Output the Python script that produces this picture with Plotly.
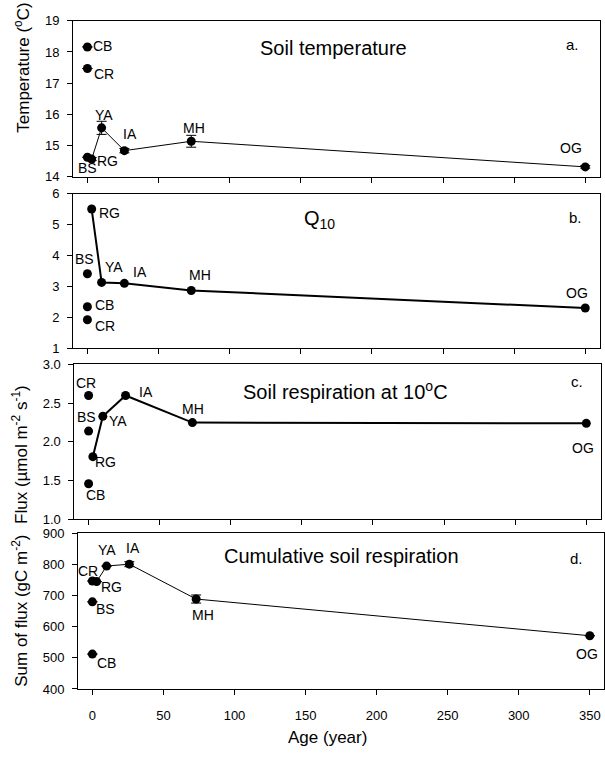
import plotly.graph_objects as go

# ---------------- data ----------------
sites = ["BS", "CB", "CR", "RG", "YA", "IA", "MH", "OG"]
age = [0, 0, 0, 3, 10, 26, 73, 350]
temperature = [14.63, 18.16, 17.47, 14.57, 15.57, 14.84, 15.14, 14.32]
temperature_se = [0, 0, 0, 0.05, 0.21, 0.07, 0.19, 0.04]
q10 = [3.41, 2.34, 1.92, 5.51, 3.13, 3.10, 2.87, 2.30]
flux10 = [2.14, 1.46, 2.60, 1.81, 2.33, 2.60, 2.25, 2.24]
cumulative = [680, 512, 747, 745, 795, 801, 689, 571]
cumulative_se = [0, 0, 0, 0, 0, 8, 13, 0]
chrono = ["RG", "YA", "IA", "MH", "OG"]  # chronosequence joined by a line

W, H = 605, 759
FONT = "Liberation Sans, Arial, sans-serif"


def fx(px):
    return px / W


def fy(py):
    return (H - py) / H


panels = [
    dict(y=temperature, err=temperature_se, lw=1,
         dom_x=(73.3, 600.5), dom_y=(14, 173.3), yr=[14, 19], yt=[14, 15, 16, 17, 18, 19], yfmt="d",
         title="Soil temperature", tpos=(334, 42), letter="a.", lpos=(573, 38),
         offs={"BS": (0, 11), "CB": (15.5, -1), "CR": (16.5, 5), "RG": (16, 2),
               "YA": (2, -13), "IA": (6, -17), "MH": (3, -13), "OG": (-14, -19)}),
    dict(y=q10, err=None, lw=2,
         dom_x=(73.3, 600.5), dom_y=(190.7, 348), yr=[1, 6], yt=[1, 2, 3, 4, 5, 6], yfmt="d",
         title="Q<sub>10</sub>", tpos=(320, 217), letter="b.", lpos=(576, 215),
         offs={"BS": (-3, -15), "CB": (17.5, -2), "CR": (18, 6), "RG": (18, 4),
               "YA": (12, -15), "IA": (16, -11), "MH": (9, -15), "OG": (-8, -15)}),
    dict(y=flux10, err=None, lw=2,
         dom_x=(74.5, 601.5), dom_y=(364.7, 522.7), yr=[1, 3], yt=[1.0, 1.5, 2.0, 2.5, 3.0], yfmt=".1f",
         title="Soil respiration at 10<sup>o</sup>C", tpos=(346, 391), letter="c.", lpos=(578, 382),
         offs={"BS": (-2, -14), "CB": (7, 11), "CR": (-3, -12), "RG": (12.5, 5),
               "YA": (15, 5), "IA": (20, -3), "MH": (1, -14), "OG": (-3, 25)}),
    dict(y=cumulative, err=cumulative_se, lw=1,
         dom_x=(78.3, 605), dom_y=(537, 695.7), yr=[400, 900], yt=[400, 500, 600, 700, 800, 900], yfmt="d",
         title="Cumulative soil respiration", tpos=(342, 560), letter="d.", lpos=(577, 563),
         offs={"BS": (13.5, 7), "CB": (14, 9), "CR": (-4, -10), "RG": (15, 5),
               "YA": (0.5, -16), "IA": (3.5, -16), "MH": (6.5, 16), "OG": (-3, 18)}),
]

fig = go.Figure()
annotations = []
layout = dict(
    width=W, height=H, margin=dict(l=0, r=0, t=0, b=0),
    paper_bgcolor="white", plot_bgcolor="white", showlegend=False,
    font=dict(family=FONT, size=13, color="black"),
)

for i, p in enumerate(panels, start=1):
    xa = "x" if i == 1 else f"x{i}"
    ya = "y" if i == 1 else f"y{i}"
    # connecting line
    lx = [age[sites.index(s)] for s in chrono]
    ly = [p["y"][sites.index(s)] for s in chrono]
    fig.add_trace(go.Scatter(x=lx, y=ly, mode="lines", xaxis=xa, yaxis=ya,
                             line=dict(color="black", width=p["lw"]), hoverinfo="skip"))
    # points
    err = None
    if p["err"] is not None:
        err = dict(type="data", array=p["err"], visible=True, color="black", thickness=1, width=5)
    fig.add_trace(go.Scatter(x=age, y=p["y"], mode="markers", xaxis=xa, yaxis=ya,
                             marker=dict(color="black", size=9), error_y=err))
    # site labels
    for s, xv, yv in zip(sites, age, p["y"]):
        dx, dy = p["offs"][s]
        annotations.append(dict(x=xv, y=yv, xref=xa, yref=ya, text=s, showarrow=False,
                                xshift=dx, yshift=-dy, font=dict(size=14, family=FONT, color="black"),
                                xanchor="center", yanchor="middle"))
    # panel title & letter
    annotations.append(dict(x=fx(p["tpos"][0]), y=fy(p["tpos"][1]), xref="paper", yref="paper",
                            text=p["title"], showarrow=False, font=dict(size=20, family=FONT),
                            xanchor="center", yanchor="middle"))
    annotations.append(dict(x=fx(p["lpos"][0]), y=fy(p["lpos"][1]), xref="paper", yref="paper",
                            text=p["letter"], showarrow=False, font=dict(size=15, family=FONT),
                            xanchor="center", yanchor="middle"))

    x0, x1 = p["dom_x"]
    y0, y1 = p["dom_y"]
    last = i == len(panels)
    layout["xaxis" if i == 1 else f"xaxis{i}"] = dict(
        domain=[fx(x0), fx(x1)], range=[-10, 360], anchor=ya,
        tickvals=[0, 50, 100, 150, 200, 250, 300, 350], ticks="outside", ticklen=5,
        tickcolor="black", tickwidth=1, showticklabels=last, ticklabelstandoff=9,
        tickfont=dict(size=13, family=FONT), showline=True, linecolor="black", linewidth=1,
        mirror=True, showgrid=False, zeroline=False,
    )
    layout["yaxis" if i == 1 else f"yaxis{i}"] = dict(
        domain=[fy(y1), fy(y0)], range=p["yr"], anchor=xa,
        tickvals=p["yt"], tickformat=p["yfmt"], ticks="outside", ticklen=5,
        tickcolor="black", tickwidth=1, tickfont=dict(size=13, family=FONT), ticklabelstandoff=5,
        showline=True, linecolor="black", linewidth=1, mirror=True,
        showgrid=False, zeroline=False,
    )

# axis titles
ytitles = [
    ("Temperature (<sup>o</sup>C)", 22, 62),
    ("Flux (µmol m<sup>-2</sup> s<sup>-1</sup>)", 20, 456),
    ("Sum of flux (gC m<sup>-2</sup>)", 20, 616),
]
for t, xp, yp in ytitles:
    annotations.append(dict(x=fx(xp), y=fy(yp), xref="paper", yref="paper", text=t,
                            showarrow=False, textangle=-90, font=dict(size=17, family=FONT),
                            xanchor="center", yanchor="middle"))
annotations.append(dict(x=fx(328), y=fy(745), xref="paper", yref="paper", text="Age (year)",
                        showarrow=False, font=dict(size=17, family=FONT),
                        xanchor="center", yanchor="middle"))

layout["annotations"] = annotations
fig.update_layout(**layout)
fig.write_html("out.html")
